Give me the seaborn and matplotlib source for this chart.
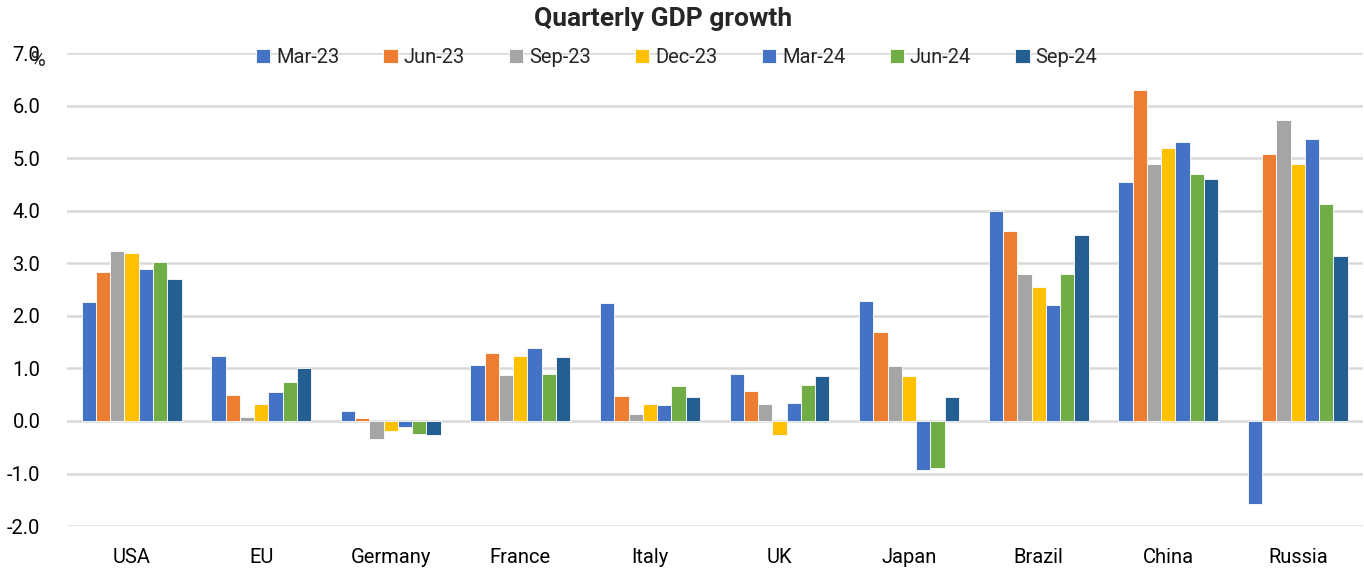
import matplotlib
matplotlib.use("Agg")
import matplotlib.pyplot as plt
import seaborn as sns
import pandas as pd

countries = ["USA", "EU", "Germany", "France", "Italy", "UK", "Japan", "Brazil", "China", "Russia"]
quarters = ["Mar-23", "Jun-23", "Sep-23", "Dec-23", "Mar-24", "Jun-24", "Sep-24"]

mar23 = [2.27, 1.23, 0.19, 1.07, 2.25, 0.90, 2.29, 3.99, 4.55, -1.58]
jun23 = [2.83, 0.50, 0.06, 1.29, 0.48, 0.57, 1.69, 3.62, 6.30, 5.08]
sep23 = [3.24, 0.08, -0.34, 0.87, 0.13, 0.32, 1.05, 2.80, 4.89, 5.73]
dec23 = [3.20, 0.32, -0.20, 1.24, 0.32, -0.27, 0.85, 2.54, 5.19, 4.88]
mar24 = [2.90, 0.56, -0.11, 1.38, 0.30, 0.34, -0.94, 2.21, 5.30, 5.36]
jun24 = [3.03, 0.75, -0.24, 0.89, 0.66, 0.69, -0.90, 2.80, 4.69, 4.13]
sep24 = [2.71, 1.01, -0.27, 1.22, 0.45, 0.85, 0.45, 3.54, 4.60, 3.13]

colors = ["#4472C4", "#ED7D31", "#A5A5A5", "#FFC000", "#4472C4", "#70AD47", "#255E91"]

series = [mar23, jun23, sep23, dec23, mar24, jun24, sep24]
rows = []
for q, vals in zip(quarters, series):
    for c, v in zip(countries, vals):
        rows.append({"country": c, "quarter": q, "growth": v})
df = pd.DataFrame(rows)

sns.set_theme(style="white")
plt.rcParams["font.family"] = ["Roboto", "DejaVu Sans"]

fig = plt.figure(figsize=(13.64, 5.70), dpi=100)
ax = fig.add_axes([0.049, 0.077, 0.950, 0.830])

sns.barplot(data=df, x="country", y="growth", hue="quarter", hue_order=quarters,
            order=countries, palette=colors, width=0.77, saturation=1,
            edgecolor="white", linewidth=0.6, ax=ax, legend=True)

ax.set_ylim(-2.0, 7.0)
ax.set_yticks([-2, -1, 0, 1, 2, 3, 4, 5, 6, 7])
ax.set_yticklabels([f"{v:.1f}" for v in range(-2, 8)])
ax.yaxis.grid(True, color="#D9D9D9", linewidth=1.8)
ax.set_axisbelow(True)
for s in ax.spines.values():
    s.set_visible(False)
ax.tick_params(axis="both", length=0, labelsize=14.5, colors="#000000")
ax.tick_params(axis="y", pad=19)
ax.tick_params(axis="x", pad=16)
ax.set_xlabel("")
ax.set_ylabel("")

handles, labels = ax.get_legend_handles_labels()
ax.get_legend().remove()
fig.legend(handles, labels, loc="center", bbox_to_anchor=(0.496, 0.899), ncol=7,
           frameon=False, fontsize=14.5, handlelength=0.7, handleheight=0.7,
           handletextpad=0.3, columnspacing=2.2)

fig.text(0.486, 0.967, "Quarterly GDP growth", ha="center", va="center",
         fontsize=19, fontweight="bold")
fig.text(38 / 1364, 1 - 60 / 570, "%", ha="center", va="center", fontsize=14.5)

fig.savefig("out.png", dpi=100)
